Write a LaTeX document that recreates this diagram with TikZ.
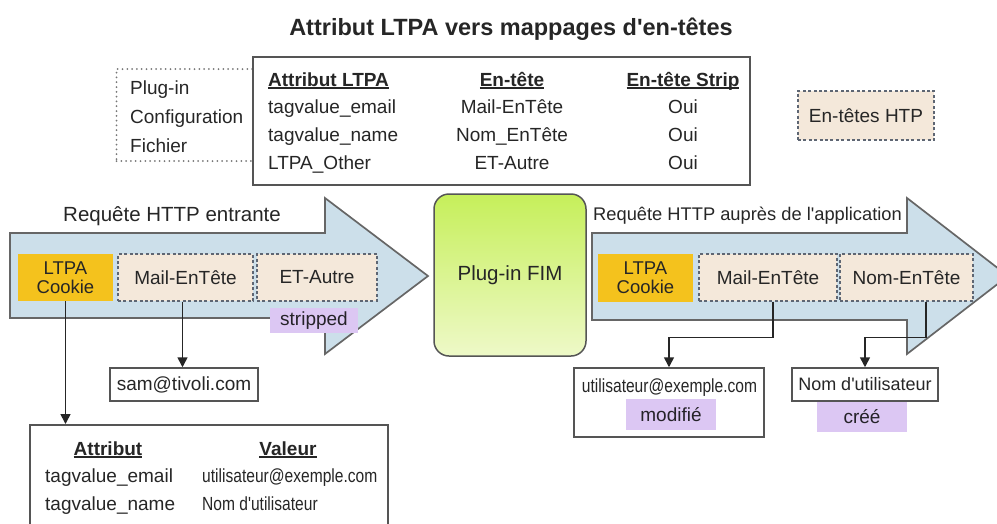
\documentclass[tikz,border=0pt]{standalone}
\usepackage{fontspec}
\setmainfont{Liberation Sans}[Ligatures=TeXOff]
\newfontfamily\narrowfont{Liberation Sans}[Ligatures=TeXOff,FakeStretch=0.82]
\usetikzlibrary{arrows.meta}

\definecolor{ink}{HTML}{262626}
\definecolor{arrowblue}{HTML}{CCDFEA}
\definecolor{arrowedge}{HTML}{666666}
\definecolor{cookie}{HTML}{F4C21D}
\definecolor{beige}{HTML}{F4E8DA}
\definecolor{lilac}{HTML}{DCC7F3}
\definecolor{limetop}{HTML}{C6EF5A}
\definecolor{limebot}{HTML}{EEF9C8}
\definecolor{boxedge}{HTML}{555555}
\definecolor{dashedge}{HTML}{5E6673}
\definecolor{dotgray}{HTML}{777777}

% underlined column heading with a thick rule
\newcommand\colhead[1]{\setbox0\hbox{#1}\rlap{\rule[-2.6pt]{\wd0}{1.3pt}}\box0}

\begin{document}
\begin{tikzpicture}[x=1pt,y=-1pt,
  every node/.style={text=ink, font=\fontsize{19}{22}\selectfont, inner sep=0pt},
  plainbox/.style={draw=boxedge, line width=1.5pt, fill=white},
  hdrbox/.style={fill=beige, draw=dashedge, line width=1.3pt,
                 dash pattern=on 3pt off 2.4pt, minimum height=47pt},
  cookiebox/.style={fill=cookie, minimum width=95pt, minimum height=47pt,
                    align=center, font=\fontsize{18.5}{19}\selectfont},
  tagbox/.style={fill=lilac, text=ink!70!lilac!40!black},
  cfgbox/.style={draw=dotgray, line width=2pt, dash pattern=on 0pt off 4.8pt,
                 line cap=round},
  fimbox/.style={draw=boxedge, line width=1.5pt, rounded corners=15pt,
                 top color=limetop, bottom color=limebot,
                 font=\fontsize{20.5}{22}\selectfont},
  conn/.style={draw=ink, line width=1.6pt, -{Triangle[width=10pt,length=10pt]}},
  arrowbody/.style={fill=arrowblue, draw=arrowedge, line width=1.7pt}]

\useasboundingbox (0,0) rectangle (997,523);
\clip (0,0) rectangle (997,523);

% heading
\node[font=\bfseries\fontsize{23.5}{26}\selectfont, anchor=base] (title)
  at (511,35) {Attribut LTPA vers mappages d'en-têtes};

% plug-in configuration file and its mapping table
\node[cfgbox, minimum width=137pt, minimum height=92pt] (cfg) at (185,115) {};
\node[anchor=base west] (cfg1) at (130,94) {Plug-in};
\node[anchor=base west] (cfg2) at (130,123) {Configuration};
\node[anchor=base west] (cfg3) at (130,152) {Fichier};

\node[plainbox, minimum width=497pt, minimum height=128pt] (maptab) at (501.5,121) {};
\node[anchor=base west, font=\bfseries\fontsize{19}{22}\selectfont] (h1) at (268,86) {\colhead{Attribut LTPA}};
\node[anchor=base, font=\bfseries\fontsize{19}{22}\selectfont] (h2) at (512,86) {\colhead{En-tête}};
\node[anchor=base, font=\bfseries\fontsize{19}{22}\selectfont] (h3) at (683,86) {\colhead{En-tête Strip}};
\node[anchor=base west] (a1) at (268,113) {tagvalue\_email};
\node[anchor=base west] (a2) at (268,141) {tagvalue\_name};
\node[anchor=base west] (a3) at (268,169) {LTPA\_Other};
\node[anchor=base] (e1) at (512,113) {Mail-EnTête};
\node[anchor=base] (e2) at (512,141) {Nom\_EnTête};
\node[anchor=base] (e3) at (512,169) {ET-Autre};
\node[anchor=base] (s1) at (683,113) {Oui};
\node[anchor=base] (s2) at (683,141) {Oui};
\node[anchor=base] (s3) at (683,169) {Oui};

% legend
\node[hdrbox, minimum width=136pt, minimum height=49pt] (legend) at (866,115.5) {En-têtes HTP};

% incoming request arrow
\draw[arrowbody] (10,233) -- (325,233) -- (325,198) -- (428,276)
  -- (325,354) -- (325,318) -- (10,318) -- cycle;
\node[anchor=base west, font=\fontsize{20.5}{22}\selectfont] (inlabel)
  at (63,221) {Requête HTTP entrante};
\node[cookiebox] (lcookie) at (65.5,277.5) {LTPA\\Cookie};
\node[hdrbox, minimum width=135pt] (lmail) at (185.5,277.5) {Mail-EnTête};
\node[hdrbox, minimum width=120pt] (lother) at (317,277.5) {ET-Autre};
\node[tagbox, minimum width=88pt, minimum height=25pt] (strip) at (314,320.5) {stripped};

% plug-in
\node[fimbox, minimum width=152pt, minimum height=162pt] (fim) at (510,275) {Plug-in FIM};

% request forwarded to the application
\draw[arrowbody] (592,233) -- (907,233) -- (907,198) -- (1008,276)
  -- (907,354) -- (907,320) -- (592,320) -- cycle;
\node[anchor=base west, font=\fontsize{18.3}{22}\selectfont] (outlabel)
  at (593,220) {Requête HTTP auprès de l'application};
\node[cookiebox, minimum height=48pt] (rcookie) at (645.5,278) {LTPA\\Cookie};
\node[hdrbox, minimum width=138pt] (rmail) at (768,277.5) {Mail-EnTête};
\node[hdrbox, minimum width=133pt] (rname) at (906.5,277.5) {Nom-EnTête};

% values on the incoming side
\node[plainbox, minimum width=148pt, minimum height=33pt] (sam) at (184,384.5) {sam@tivoli.com};
\node[plainbox, minimum width=358pt, minimum height=120pt, anchor=north] (attrtab) at (209,424) {};
\node[anchor=base, font=\bfseries\fontsize{19}{22}\selectfont] (t1) at (108,455) {\colhead{Attribut}};
\node[anchor=base, font=\bfseries\fontsize{19}{22}\selectfont] (t2) at (288,455) {\colhead{Valeur}};
\node[anchor=base west] (t3) at (45,482) {tagvalue\_email};
\node[anchor=base west] (t4) at (45,510) {tagvalue\_name};
\node[anchor=base west, font=\narrowfont\fontsize{19}{22}\selectfont] (t5) at (202,482) {utilisateur@exemple.com};
\node[anchor=base west, font=\narrowfont\fontsize{19}{22}\selectfont] (t6) at (202,510) {Nom d'utilisateur};

% values on the application side
\node[plainbox, minimum width=190pt, minimum height=69pt] (util) at (669,402.5) {};
\node[anchor=base, font=\narrowfont\fontsize{19}{22}\selectfont] (utiltext) at (669.5,392) {utilisateur@exemple.com};
\node[tagbox, minimum width=90pt, minimum height=31pt] (modif) at (671,414.5) {modifié};
\node[plainbox, minimum width=146pt, minimum height=33pt, font=\fontsize{18}{22}\selectfont] (uname) at (865,384.5) {Nom d'utilisateur};
\node[tagbox, minimum width=90pt, minimum height=30pt] (cree) at (862,417) {créé};

% connectors
\draw[conn] (lcookie.south) -- (lcookie.south |- attrtab.north);
\draw[conn] ([xshift=-3pt]lmail.south) -- ([xshift=-3pt]lmail.south |- sam.north);
\draw[conn] ([xshift=5pt]rmail.south) -- ++(0,36) -| (util.north);
\draw[conn] ([xshift=19.5pt]rname.south) -- ++(0,36) -| (uname.north);
\end{tikzpicture}
\end{document}
